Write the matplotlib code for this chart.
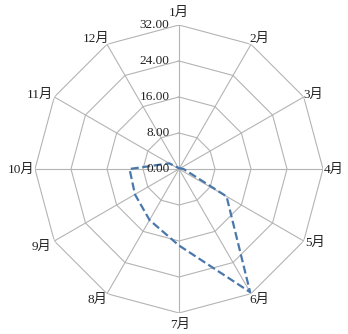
"""Radar chart of monthly values (dashed line over polygon grid)."""
import numpy as np
import matplotlib
matplotlib.use("Agg")
import matplotlib.pyplot as plt

months = ['1月', '2月', '3月', '4月', '5月', '6月',
          '7月', '8月', '9月', '10月', '11月', '12月']
values = [0.0, 0.0, 0.3, 1.0, 12.2, 31.6, 17.0, 13.1, 11.3, 11.0, 2.5, 0.3]
rings = [0, 8, 16, 24, 32]
ring_labels = ['0.00', '8.00', '16.00', '24.00', '32.00']

# label offsets from each outer vertex, in pixels (x right, y up)
label_offsets = [(0, 12), (8, 5), (10, 2), (11, -1), (11, -2), (8, -6),
                 (1, -12), (-10, -6), (-13, -6), (-14, -1), (-14, 2), (-11, 5)]

plt.rcParams['font.family'] = ['Liberation Serif', 'Noto Sans CJK SC']

GRID = '#b4b4b4'
LINE = '#4a78ab'

fig = plt.figure(figsize=(3.48, 3.34), dpi=100)
ax = fig.add_axes([0.1006, 0.0629, 0.8276, 0.8623], projection='polar')
ax.set_theta_offset(np.pi / 2)
ax.set_theta_direction(-1)
ax.set_ylim(0, rings[-1])
ax.set_xticks([])
ax.set_yticks([])
ax.grid(False)
ax.spines['polar'].set_visible(False)
ax.patch.set_visible(False)

theta = np.arange(len(months)) * 2 * np.pi / len(months)
closed = np.append(theta, theta[0])

# polygon rings
for r in rings[1:]:
  ax.plot(closed, [r] * len(closed), color=GRID, lw=0.8, zorder=1)
# spokes
for t in theta:
  ax.plot([t, t], [0, rings[-1]], color=GRID, lw=0.8, zorder=1)

# data line
ax.plot(closed, values + values[:1], color=LINE, lw=1.6, ls='--',
        dashes=(3.6, 1.6), zorder=3)

# ring value labels along the first spoke
for r, lab in zip(rings, ring_labels):
  ax.annotate(lab, xy=(0, r), xytext=(-7, 0), textcoords='offset points',
              ha='right', va='center', fontsize=9.5, color='#222222',
              zorder=4)

# month labels
for t, name, (dx, dy) in zip(theta, months, label_offsets):
  ax.annotate(name, xy=(t, rings[-1]), xytext=(dx * 0.72, dy * 0.72),
              textcoords='offset points', ha='center', va='center',
              fontsize=9.5, color='#222222', annotation_clip=False)

fig.savefig('out.png', dpi=100)
